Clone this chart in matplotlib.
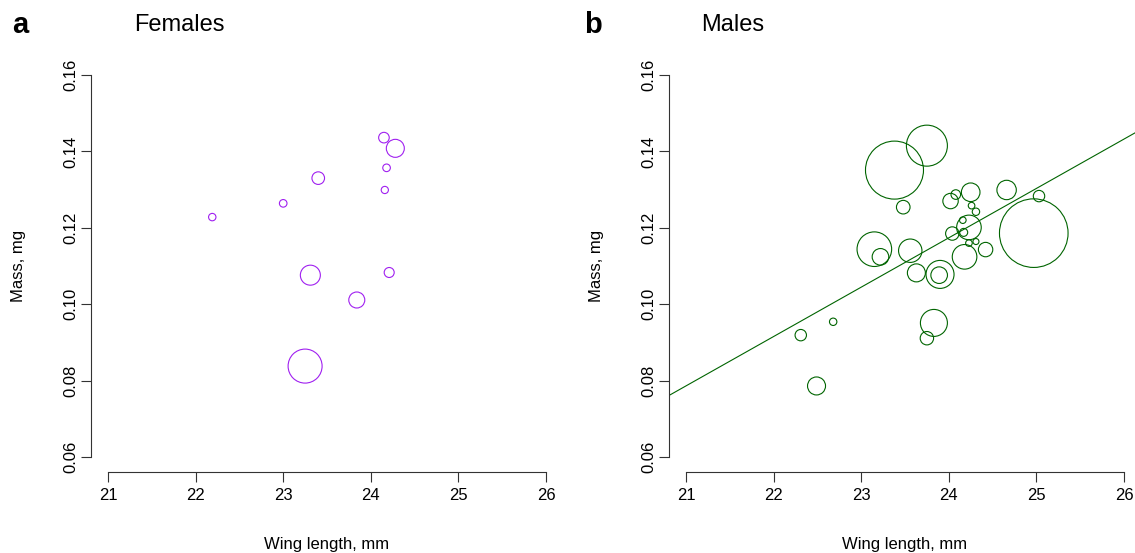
import numpy as np
import matplotlib
matplotlib.use("Agg")
import matplotlib.pyplot as plt

plt.rcParams['font.family'] = ['Liberation Sans', 'DejaVu Sans']

# females: wing length (mm), mass (mg), circle radius
f_wing = [22.19, 23.00, 23.40, 24.15, 24.28, 24.18, 24.16, 23.31, 23.84, 24.21, 23.25]
f_mass = [0.1228, 0.1264, 0.1330, 0.1436, 0.1408, 0.1357, 0.1299, 0.1076, 0.1011, 0.1083, 0.0838]
f_rad = [3.7, 3.8, 6.3, 5.3, 9.0, 3.8, 3.6, 10.0, 8.0, 5.0, 17.0]

# males
m_wing = [23.38, 23.75, 23.48, 24.02, 24.08, 23.15, 23.22, 23.56, 23.63, 23.90,
          23.89, 23.83, 23.75, 24.25, 24.66, 24.26, 24.31, 24.16, 24.17, 24.04,
          24.23, 24.31, 24.42, 24.18, 24.23, 24.97, 25.03, 22.31, 22.68, 22.49]
m_mass = [0.1351, 0.1415, 0.1254, 0.1270, 0.1287, 0.1144, 0.1124, 0.1140, 0.1082, 0.1078,
          0.1076, 0.0951, 0.0911, 0.1293, 0.1299, 0.1258, 0.1242, 0.1220, 0.1188, 0.1185,
          0.1160, 0.1164, 0.1143, 0.1124, 0.1201, 0.1186, 0.1283, 0.0919, 0.0954, 0.0786]
m_rad = [29.0, 20.5, 6.8, 7.7, 4.8, 17.3, 8.3, 11.7, 9.0, 14.0,
         8.3, 13.5, 6.7, 9.3, 9.7, 3.3, 3.7, 3.3, 4.0, 6.7,
         3.3, 3.0, 7.2, 12.3, 12.3, 34.3, 5.7, 5.7, 3.7, 9.0]

# fitted line for males: intercept, slope
m_fit = (-0.1927, 0.01292)

x_ticks = [21, 22, 23, 24, 25, 26]
y_ticks = [0.06, 0.08, 0.10, 0.12, 0.14, 0.16]

W, H = 1135, 553
fig = plt.figure(figsize=(W / 100, H / 100), dpi=100)

def make_ax(left_px):
    ax = fig.add_axes([left_px / W, (H - 472.3) / H, 473 / W, 412.6 / H])
    ax.set_xlim(20.8, 26.2)
    ax.set_ylim(0.056, 0.164)
    for s in ['top', 'right']:
        ax.spines[s].set_visible(False)
    ax.spines['left'].set_bounds(0.06, 0.16)
    ax.spines['bottom'].set_bounds(21, 26)
    for s in ['left', 'bottom']:
        ax.spines[s].set_linewidth(0.8)
        ax.spines[s].set_color('#333333')
    ax.set_xticks(x_ticks)
    ax.set_xticklabels([str(t) for t in x_ticks])
    ax.set_yticks(y_ticks)
    ax.set_yticklabels(['%.2f' % t for t in y_ticks], rotation=90, va='center')
    ax.tick_params(length=7, width=0.8, color='#333333', labelsize=12)
    ax.tick_params(axis='x', pad=4.5)
    ax.tick_params(axis='y', pad=2)
    ax.set_xlabel('Wing length, mm', fontsize=12, va='center')
    ax.xaxis.set_label_coords(0.5, -(545 - 472.3) / 412.6)
    ax.set_ylabel('Mass, mg', fontsize=12, va='center')
    ax.yaxis.set_label_coords((18 - 90.5) / 473, 0.5)
    return ax

ax1 = make_ax(90.5)
ax1.scatter(f_wing, f_mass, s=(1.44 * np.array(f_rad)) ** 2, facecolors='none',
            edgecolors='#A020F0', linewidths=0.8)

ax2 = make_ax(668.5)
ax2.scatter(m_wing, m_mass, s=(1.44 * np.array(m_rad)) ** 2, facecolors='none',
            edgecolors='#006400', linewidths=0.8)
ax2.axline((0, m_fit[0]), slope=m_fit[1], color='#006400', linewidth=0.8)

fig.text(12 / W, 1 - 25 / H, 'a', fontsize=21, fontweight='bold', va='center', ha='left')
fig.text(584 / W, 1 - 25 / H, 'b', fontsize=21, fontweight='bold', va='center', ha='left')
fig.text(134 / W, 1 - 25 / H, 'Females', fontsize=17, va='center', ha='left')
fig.text(701 / W, 1 - 25 / H, 'Males', fontsize=17, va='center', ha='left')

plt.savefig('out.png', dpi=100)
